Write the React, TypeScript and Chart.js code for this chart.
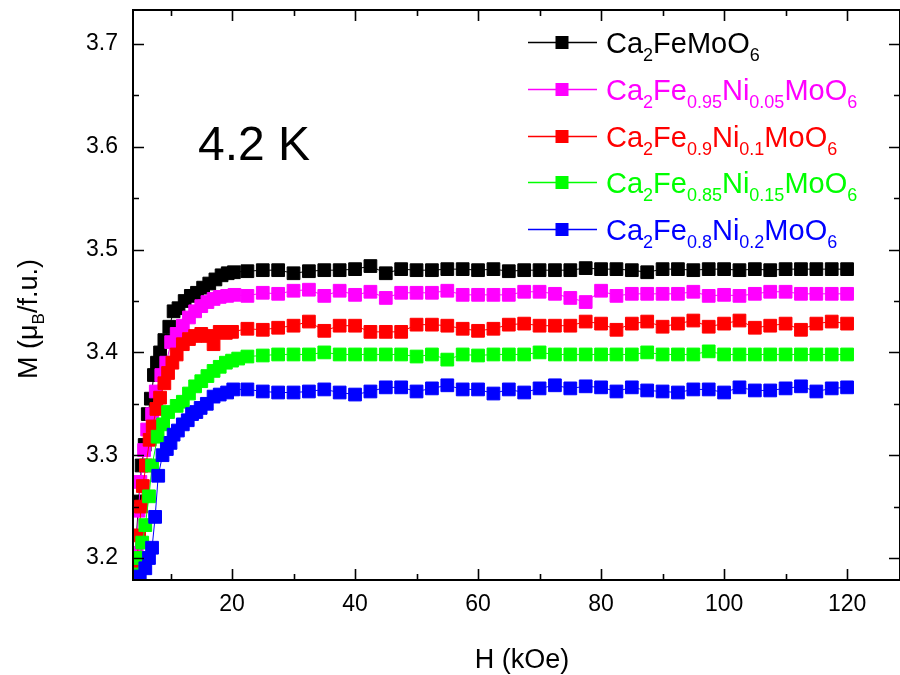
import React, { useEffect, useRef } from "react";
import { Chart, registerables } from "chart.js";

Chart.register(...registerables);

// ---------- data ----------
const fieldPlateau = [22.5, 25, 27.5, 30, 32.5, 35, 37.5, 40, 42.5, 45, 47.5, 50, 52.5, 55, 57.5, 60, 62.5, 65, 67.5, 70, 72.5, 75, 77.5, 80, 82.5, 85, 87.5, 90, 92.5, 95, 97.5, 100, 102.5, 105, 107.5, 110, 112.5, 115, 117.5, 120];

const blackLowH = [4.3, 4.8, 5.3, 5.8, 6.3, 6.8, 7.3, 7.8, 8.3, 9.0, 9.8, 10.5, 11.3, 12.3, 13.3, 14.3, 15.3, 16.3, 17.3, 18.3, 19.3, 20.3];
const blackLowM = [3.205, 3.255, 3.29, 3.31, 3.34, 3.355, 3.378, 3.39, 3.4, 3.412, 3.425, 3.44, 3.443, 3.45, 3.455, 3.458, 3.463, 3.467, 3.471, 3.475, 3.477, 3.478];
const blackPlateauM = [3.479, 3.48, 3.48, 3.477, 3.479, 3.48, 3.48, 3.481, 3.484, 3.477, 3.481, 3.48, 3.48, 3.481, 3.481, 3.48, 3.481, 3.479, 3.48, 3.48, 3.48, 3.48, 3.482, 3.481, 3.481, 3.48, 3.478, 3.481, 3.481, 3.48, 3.481, 3.481, 3.48, 3.481, 3.48, 3.481, 3.481, 3.481, 3.481, 3.481];

const magentaLowH = [4.5, 4.8, 5.1, 5.7, 6.2, 7.0, 7.6, 8.5, 9.3, 10.1, 11.0, 12.0, 13.0, 14.0, 15.0, 16.0, 17.0, 18.0, 19.2, 20.4];
const magentaLowM = [3.205, 3.246, 3.274, 3.305, 3.325, 3.34, 3.362, 3.378, 3.39, 3.41, 3.418, 3.426, 3.434, 3.44, 3.445, 3.449, 3.452, 3.454, 3.455, 3.456];
const magentaPlateauM = [3.455, 3.458, 3.457, 3.46, 3.461, 3.455, 3.46, 3.456, 3.459, 3.453, 3.458, 3.458, 3.458, 3.46, 3.456, 3.456, 3.456, 3.456, 3.459, 3.459, 3.457, 3.453, 3.449, 3.46, 3.455, 3.457, 3.457, 3.457, 3.457, 3.459, 3.455, 3.456, 3.455, 3.457, 3.459, 3.459, 3.457, 3.457, 3.457, 3.457];

const redLowH = [4.5, 4.9, 5.2, 5.5, 6.0, 6.6, 7.1, 7.7, 8.3, 9.0, 9.6, 10.3, 11.0, 12.0, 13.0, 14.0, 15.0, 16.0, 17.0, 18.0, 19.0, 20.0];
const redLowM = [3.195, 3.222, 3.25, 3.27, 3.29, 3.315, 3.328, 3.345, 3.356, 3.37, 3.38, 3.39, 3.398, 3.408, 3.413, 3.416, 3.418, 3.416, 3.408, 3.42, 3.419, 3.42];
const redPlateauM = [3.423, 3.422, 3.424, 3.426, 3.43, 3.421, 3.426, 3.426, 3.42, 3.42, 3.42, 3.427, 3.427, 3.426, 3.423, 3.421, 3.423, 3.427, 3.428, 3.426, 3.426, 3.426, 3.43, 3.428, 3.422, 3.428, 3.43, 3.425, 3.428, 3.431, 3.425, 3.428, 3.431, 3.424, 3.426, 3.428, 3.422, 3.428, 3.43, 3.428];

const greenLowH = [4.7, 5.0, 5.4, 5.9, 6.5, 7.0, 7.9, 8.8, 9.6, 11.0, 12.0, 13.0, 14.0, 15.0, 16.0, 17.0, 18.0, 19.0, 20.0, 21.0];
const greenLowM = [3.184, 3.2, 3.215, 3.232, 3.26, 3.29, 3.318, 3.33, 3.342, 3.348, 3.352, 3.36, 3.367, 3.372, 3.377, 3.382, 3.386, 3.39, 3.392, 3.394];
const greenPlateauM = [3.396, 3.397, 3.398, 3.398, 3.398, 3.4, 3.398, 3.398, 3.398, 3.398, 3.398, 3.396, 3.398, 3.393, 3.398, 3.397, 3.398, 3.398, 3.398, 3.4, 3.398, 3.398, 3.398, 3.398, 3.398, 3.398, 3.4, 3.398, 3.398, 3.398, 3.401, 3.398, 3.398, 3.398, 3.398, 3.398, 3.398, 3.398, 3.398, 3.398];

const blueLowH = [5.0, 5.9, 6.5, 7.0, 7.5, 8.0, 8.7, 9.4, 10.0, 10.5, 11.2, 12.0, 12.8, 13.5, 14.2, 14.9, 15.9, 17.0, 18.0, 19.2, 20.2];
const blueLowM = [3.182, 3.19, 3.2, 3.21, 3.24, 3.28, 3.3, 3.306, 3.312, 3.32, 3.324, 3.33, 3.334, 3.34, 3.342, 3.346, 3.35, 3.357, 3.359, 3.361, 3.364];
const bluePlateauM = [3.364, 3.362, 3.361, 3.361, 3.362, 3.364, 3.361, 3.359, 3.362, 3.366, 3.366, 3.362, 3.365, 3.368, 3.364, 3.364, 3.36, 3.364, 3.361, 3.365, 3.368, 3.365, 3.367, 3.366, 3.362, 3.366, 3.363, 3.362, 3.361, 3.364, 3.364, 3.361, 3.366, 3.363, 3.363, 3.365, 3.367, 3.362, 3.365, 3.366];

const seriesLabels = ["Ca_{2}FeMoO_{6}", "Ca_{2}Fe_{0.95}Ni_{0.05}MoO_{6}", "Ca_{2}Fe_{0.9}Ni_{0.1}MoO_{6}", "Ca_{2}Fe_{0.85}Ni_{0.15}MoO_{6}", "Ca_{2}Fe_{0.8}Ni_{0.2}MoO_{6}"];
const seriesColors = ["#000000", "#ff00ff", "#ff0000", "#00ff00", "#0000ff"];

const xTickValues = [20, 40, 60, 80, 100, 120];
const xMinorValues = [10, 30, 50, 70, 90, 110];
const yTickValues = [3.2, 3.3, 3.4, 3.5, 3.6, 3.7];
const yMinorValues = [3.25, 3.35, 3.45, 3.55, 3.65];

const xTitle = "H (kOe)";
const yTitle = "M (\u03bc_{B}/f.u.)";
const annotationText = "4.2 K";

const FONT = "'Liberation Sans', Arial, sans-serif";

type Seg = { t: string; sub: boolean };
function parseRich(s: string): Seg[] {
  const out: Seg[] = [];
  const re = /_\{([^}]*)\}/g;
  let last = 0;
  let m: RegExpExecArray | null;
  while ((m = re.exec(s))) {
    if (m.index > last) out.push({ t: s.slice(last, m.index), sub: false });
    out.push({ t: m[1], sub: true });
    last = m.index + m[0].length;
  }
  if (last < s.length) out.push({ t: s.slice(last), sub: false });
  return out;
}
function plain(s: string) {
  return s.replace(/_\{([^}]*)\}/g, "$1");
}

function richWidth(ctx: CanvasRenderingContext2D, segs: Seg[], main: number, sub: number) {
  let w = 0;
  for (const s of segs) {
    ctx.font = `${s.sub ? sub : main}px ${FONT}`;
    w += ctx.measureText(s.t).width;
  }
  return w;
}
function drawRich(ctx: CanvasRenderingContext2D, segs: Seg[], x: number, y: number, main: number, sub: number, subShift: number) {
  let cx = x;
  ctx.textBaseline = "alphabetic";
  ctx.textAlign = "left";
  for (const s of segs) {
    ctx.font = `${s.sub ? sub : main}px ${FONT}`;
    ctx.fillText(s.t, cx, s.sub ? y + subShift : y);
    cx += ctx.measureText(s.t).width;
  }
}

function buildPoints(lowH: number[], lowM: number[], plateauM: number[]) {
  const pts = lowH.map((h, i) => ({ x: h, y: lowM[i] }));
  fieldPlateau.forEach((h, i) => pts.push({ x: h, y: plateauM[i] }));
  return pts;
}

const decorPlugin = {
  id: "decor",
  afterDatasetsDraw(chart: any) {
    const { ctx, chartArea: a, scales } = chart;
    const x = scales.x;
    const y = scales.y;
    ctx.save();
    ctx.strokeStyle = "#000";
    ctx.lineWidth = 2;
    ctx.strokeRect(a.left, a.top, a.right - a.left, a.bottom - a.top);
    ctx.lineWidth = 1.6;
    const tickX = (vals: number[], len: number) => {
      for (const v of vals) {
        const px = Math.round(x.getPixelForValue(v)) + 0.5;
        ctx.beginPath();
        ctx.moveTo(px, a.bottom);
        ctx.lineTo(px, a.bottom - len);
        ctx.moveTo(px, a.top);
        ctx.lineTo(px, a.top + len);
        ctx.stroke();
      }
    };
    const tickY = (vals: number[], len: number) => {
      for (const v of vals) {
        const py = Math.round(y.getPixelForValue(v)) + 0.5;
        ctx.beginPath();
        ctx.moveTo(a.left, py);
        ctx.lineTo(a.left + len, py);
        ctx.moveTo(a.right, py);
        ctx.lineTo(a.right - len, py);
        ctx.stroke();
      }
    };
    tickX(xTickValues, 11);
    tickX(xMinorValues, 6);
    tickY(yTickValues, 11);
    tickY(yMinorValues, 6);
    ctx.restore();
  },
  afterDraw(chart: any) {
    const { ctx } = chart;
    ctx.save();
    ctx.fillStyle = "#000";
    // x title
    ctx.font = `27px ${FONT}`;
    ctx.textAlign = "center";
    ctx.textBaseline = "alphabetic";
    ctx.fillText(xTitle, 522, 668);
    // y title (rotated)
    const ySegs = parseRich(yTitle);
    const yw = richWidth(ctx, ySegs, 27, 17);
    ctx.save();
    ctx.translate(37, 319);
    ctx.rotate(-Math.PI / 2);
    drawRich(ctx, ySegs, -yw / 2, 0, 27, 17, 7);
    ctx.restore();
    // annotation
    ctx.font = `48px ${FONT}`;
    ctx.textAlign = "left";
    ctx.fillText(annotationText, 198, 160);
    // legend
    const baselines = [53, 100, 147, 193, 240];
    seriesLabels.forEach((lab, i) => {
      const col = seriesColors[i];
      const b = baselines[i];
      const ly = b - 10.5;
      ctx.strokeStyle = col;
      ctx.lineWidth = 1.6;
      ctx.beginPath();
      ctx.moveTo(528, ly);
      ctx.lineTo(597, ly);
      ctx.stroke();
      ctx.fillStyle = col;
      ctx.fillRect(562 - 6.5, ly - 6.5, 13, 13);
      drawRich(ctx, parseRich(lab), 606, b, 29, 18, 8);
    });
    ctx.restore();
  },
};

export default function App() {
  const ref = useRef<HTMLCanvasElement | null>(null);
  useEffect(() => {
    if (!ref.current) return;
    const lows = [
      [blackLowH, blackLowM, blackPlateauM],
      [magentaLowH, magentaLowM, magentaPlateauM],
      [redLowH, redLowM, redPlateauM],
      [greenLowH, greenLowM, greenPlateauM],
      [blueLowH, blueLowM, bluePlateauM],
    ];
    const datasets = lows.map((d, i) => ({
      label: plain(seriesLabels[i]),
      data: buildPoints(d[0], d[1], d[2]),
      borderColor: seriesColors[i],
      backgroundColor: seriesColors[i],
      borderWidth: 1,
      pointStyle: "rect" as const,
      pointRadius: 9,
      pointBorderWidth: 1,
      pointBorderColor: seriesColors[i],
      pointBackgroundColor: seriesColors[i],
      showLine: true,
      tension: 0,
      clip: 0,
      order: 5 - i,
    }));
    const tickFont = { family: FONT, size: 23 };
    const chart = new Chart(ref.current, {
      type: "scatter",
      data: { datasets },
      options: {
        animation: false,
        responsive: false,
        devicePixelRatio: 1,
        layout: { autoPadding: false, padding: { top: 10, right: 0, left: 0, bottom: 0 } },
        plugins: { legend: { display: false }, tooltip: { enabled: false } },
        scales: {
          x: {
            type: "linear",
            min: 3.9,
            max: 128.6,
            grid: { display: false, drawTicks: false },
            border: { display: false },
            ticks: { font: tickFont, color: "#000", padding: 11, maxRotation: 0 },
            afterBuildTicks: (s: any) => {
              s.ticks = xTickValues.map((v) => ({ value: v }));
            },
            afterFit: (s: any) => {
              s.height = 95;
              s.paddingLeft = 0;
              s.paddingRight = 0;
              s.paddingTop = 0;
              s.paddingBottom = 0;
            },
          },
          y: {
            type: "linear",
            min: 3.1786,
            max: 3.7331,
            grid: { display: false, drawTicks: false },
            border: { display: false },
            ticks: { font: tickFont, color: "#000", padding: 15, callback: (v: any) => Number(v).toFixed(1) },
            afterBuildTicks: (s: any) => {
              s.ticks = yTickValues.map((v) => ({ value: v }));
            },
            afterFit: (s: any) => {
              s.width = 133;
              s.paddingTop = 0;
              s.paddingBottom = 0;
              s.paddingLeft = 0;
              s.paddingRight = 0;
            },
          },
        },
      },
      plugins: [decorPlugin],
    } as any);
    return () => chart.destroy();
  }, []);
  return (
    <div style={{ position: "fixed", left: 0, top: 0, width: 900, height: 675, background: "#fff" }}>
      <canvas ref={ref} width={900} height={675} style={{ display: "block", width: 900, height: 675 }} />
    </div>
  );
}
